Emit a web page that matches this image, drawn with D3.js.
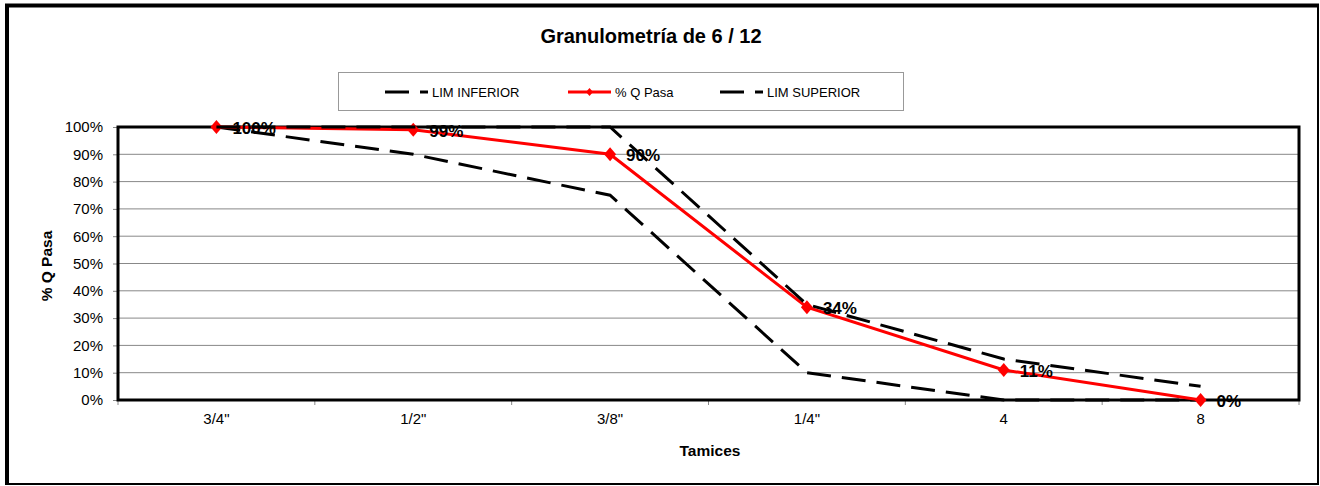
<!DOCTYPE html>
<html><head><meta charset="utf-8">
<script src="https://cdn.jsdelivr.net/npm/d3@7"></script>
<style>html,body{margin:0;padding:0;background:#fff;}svg{display:block;font-family:"Liberation Sans",Arial,sans-serif;}</style>
</head><body>
<svg id="c" width="1320" height="486"></svg>
<script>
const categories = ['3/4"', '1/2"', '3/8"', '1/4"', '4', '8'];
const limInferior = [100, 90, 75, 10, 0, 0];
const qPasa = [100, 99, 90, 34, 11, 0];
const limSuperior = [100, 100, 100, 35, 15, 5];
const yTicks = [0, 10, 20, 30, 40, 50, 60, 70, 80, 90, 100];

const svg = d3.select('#c');
const L = 118, R = 1299, T = 127, B = 400;
const x = d3.scaleBand().domain(categories).range([L, R]).padding(0);
const y = d3.scaleLinear().domain([0, 100]).range([B, T]);
const cx = c => x(c) + x.bandwidth() / 2;

// outer border
svg.append('line').attr('x1', 5).attr('x2', 1319).attr('y1', 5.5).attr('y2', 5.5).attr('stroke', '#000').attr('stroke-width', 4);
svg.append('line').attr('x1', 7).attr('x2', 7).attr('y1', 4).attr('y2', 485).attr('stroke', '#000').attr('stroke-width', 4);
svg.append('line').attr('x1', 1318).attr('x2', 1318).attr('y1', 4).attr('y2', 485).attr('stroke', '#000').attr('stroke-width', 2);
svg.append('line').attr('x1', 5).attr('x2', 1319).attr('y1', 484).attr('y2', 484).attr('stroke', '#000').attr('stroke-width', 2);

// title
svg.append('text').attr('x', 651).attr('y', 43).attr('text-anchor', 'middle')
  .attr('font-weight', 'bold').attr('font-size', 20).text('Granulometría de 6 / 12');

// gridlines
svg.append('g').selectAll('line').data(yTicks.slice(1)).join('line')
  .attr('x1', L).attr('x2', R).attr('y1', d => y(d)).attr('y2', d => y(d))
  .attr('stroke', '#888').attr('stroke-width', 1);

// y axis
const yAxis = d3.axisLeft(y).tickValues(yTicks).tickFormat(d => d + '%').tickSize(5).tickPadding(10);
const ga = svg.append('g').attr('transform', `translate(${L},0)`).call(yAxis);
ga.select('.domain').remove();
ga.selectAll('line').attr('stroke', '#888');
ga.selectAll('text').attr('font-size', 15).attr('fill', '#000').attr('font-family', '"Liberation Sans",Arial,sans-serif');

// x axis
const xAxis = d3.axisBottom(x).tickSize(0).tickPadding(13);
const gx = svg.append('g').attr('transform', `translate(0,${B})`).call(xAxis);
gx.select('.domain').remove();
gx.selectAll('text').attr('font-size', 15).attr('fill', '#000').attr('font-family', '"Liberation Sans",Arial,sans-serif');
// minor ticks at band boundaries
svg.append('g').selectAll('line').data(categories.map(c => x(c)).concat([R])).join('line')
  .attr('x1', d => d).attr('x2', d => d).attr('y1', B).attr('y2', B + 5)
  .attr('stroke', '#888').attr('stroke-width', 1);

// plot border
svg.append('rect').attr('x', L).attr('y', T).attr('width', R - L).attr('height', B - T)
  .attr('fill', 'none').attr('stroke', '#000').attr('stroke-width', 3);

// axis titles
svg.append('text').attr('transform', 'translate(52,266) rotate(-90)').attr('text-anchor', 'middle')
  .attr('font-weight', 'bold').attr('font-size', 15.5).text('% Q Pasa');
svg.append('text').attr('x', 710).attr('y', 456).attr('text-anchor', 'middle')
  .attr('font-weight', 'bold').attr('font-size', 15.5).text('Tamices');

const line = d3.line().x((d, i) => cx(categories[i])).y(d => y(d));
const dash = '24,11';
svg.append('path').datum(limInferior).attr('d', line).attr('fill', 'none')
  .attr('stroke', '#000').attr('stroke-width', 3).attr('stroke-dasharray', dash);
svg.append('path').datum(qPasa).attr('d', line).attr('fill', 'none')
  .attr('stroke', '#ff0000').attr('stroke-width', 3);
const diamond = 'M0,-7L6,0L0,7L-6,0Z';
svg.append('g').selectAll('path').data(qPasa).join('path')
  .attr('transform', (d, i) => `translate(${cx(categories[i])},${y(d)})`)
  .attr('d', diamond).attr('fill', '#ff0000');
svg.append('path').datum(limSuperior).attr('d', line).attr('fill', 'none')
  .attr('stroke', '#000').attr('stroke-width', 3).attr('stroke-dasharray', dash);

// data labels
svg.append('g').selectAll('text').data(qPasa).join('text')
  .attr('x', (d, i) => cx(categories[i]) + 16).attr('y', d => y(d) + 7)
  .attr('font-weight', 'bold').attr('font-size', 17).attr('fill', '#000')
  .text(d => d + '%');

// legend
const lg = svg.append('g');
lg.append('rect').attr('x', 338.5).attr('y', 72.5).attr('width', 565).attr('height', 38)
  .attr('fill', '#fff').attr('stroke', '#999').attr('stroke-width', 1);
const ly = 92;
const items = [
  {name: 'LIM INFERIOR', x0: 385, color: '#000', dash: dash, marker: false},
  {name: '% Q Pasa', x0: 568, color: '#ff0000', dash: null, marker: true},
  {name: 'LIM SUPERIOR', x0: 720, color: '#000', dash: dash, marker: false}
];
items.forEach(it => {
  const l = lg.append('line').attr('x1', it.x0).attr('x2', it.x0 + 43).attr('y1', ly).attr('y2', ly)
    .attr('stroke', it.color).attr('stroke-width', 3);
  if (it.dash) l.attr('stroke-dasharray', it.dash);
  if (it.marker) lg.append('path').attr('transform', `translate(${it.x0 + 21.5},${ly})`)
    .attr('d', 'M0,-4L3.5,0L0,4L-3.5,0Z').attr('fill', '#ff0000');
  lg.append('text').attr('x', it.x0 + 47).attr('y', ly + 5).attr('font-size', 13).text(it.name);
});
</script>
</body></html>
